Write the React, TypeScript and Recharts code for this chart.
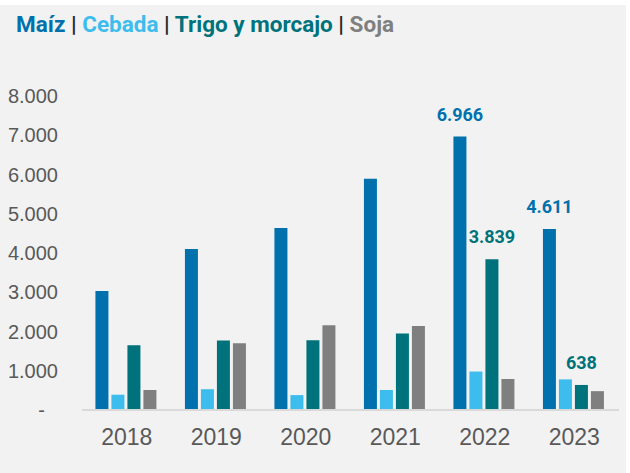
import React from 'react';
import { BarChart, Bar, XAxis, YAxis, LabelList } from 'recharts';

const years = ['2018', '2019', '2020', '2021', '2022', '2023'];
const maiz = [3030, 4100, 4640, 5890, 6966, 4611];
const cebada = [390, 530, 380, 510, 980, 780];
const trigo = [1650, 1770, 1780, 1950, 3839, 638];
const soja = [510, 1700, 2160, 2140, 790, 480];
// only these values carry a label in the original
const maizLabels = [null, null, null, null, 6966, 4611];
const trigoLabels = [null, null, null, null, 3839, 638];
const yTicks = [0, 1000, 2000, 3000, 4000, 5000, 6000, 7000, 8000];

const data = years.map((year, i) => ({
 year,
 maiz: maiz[i],
 cebada: cebada[i],
 trigo: trigo[i],
 soja: soja[i],
 maizLabel: maizLabels[i],
 trigoLabel: trigoLabels[i],
}));

const fmt = (v: number) => v.toString().replace(/\B(?=(\d{3})+(?!\d))/g, '.');

const YTick = (props: any) => {
 const { x, y, payload } = props;
 const v = payload.value as number;
 return (
  <text x={v === 0 ? x - 13 : x} y={y} dy="0.35em" textAnchor="end" fill="#595959"
   style={{ fontFamily: '"Liberation Sans", Arial, sans-serif', fontSize: 20 }}>
   {v === 0 ? '-' : fmt(v)}
  </text>
 );
};

const topLabel = (color: string) => (props: any) => {
 const { x, y, width, value } = props;
 if (value == null) return null;
 return (
  <text x={x + width / 2} y={y - 16} textAnchor="middle" fill={color}
   style={{ fontFamily: 'Roboto, sans-serif', fontWeight: 700, fontSize: 18 }}>
   {fmt(value)}
  </text>
 );
};

const sep = <span style={{ color: '#262626' }}> | </span>;

const App = () => {
 return (
  <div style={{ position: 'absolute', left: 0, top: 0, width: 630, height: 473, background: '#ffffff' }}>
   <div style={{ position: 'absolute', left: 0, top: 5, width: 626, height: 468, background: '#f2f2f2' }} />
   <div style={{ position: 'absolute', left: 16, top: 10, fontFamily: 'Roboto, sans-serif', fontWeight: 700, fontSize: 22.5, lineHeight: '28px', whiteSpace: 'nowrap' }}>
    <span style={{ color: '#0071ac' }}>Maíz</span>
    {sep}
    <span style={{ color: '#3dbdee' }}>Cebada</span>
    {sep}
    <span style={{ color: '#00727b' }}>Trigo y morcajo</span>
    {sep}
    <span style={{ color: '#7f7f7f' }}>Soja</span>
   </div>
   <div style={{ position: 'absolute', left: 0, top: 0 }}>
    <BarChart width={630} height={473} data={data} margin={{ top: 96, right: 11, bottom: 20, left: 0 }}
     barCategoryGap="15%" barGap={3}>
     <XAxis dataKey="year" axisLine={{ stroke: '#d9d9d9', strokeWidth: 2 }} tickLine={false} tickSize={0} tickMargin={19}
      height={43} tick={{ fill: '#595959', fontSize: 23, fontFamily: '"Liberation Sans", Arial, sans-serif' }} />
     <YAxis domain={[0, 8000]} ticks={yTicks} axisLine={false} tickLine={false} tickSize={0} tickMargin={24}
      width={82} tick={<YTick />} interval={0} />
     <Bar dataKey="maiz" fill="#0071ac" isAnimationActive={false}>
      <LabelList dataKey="maizLabel" content={topLabel('#0071ac')} />
     </Bar>
     <Bar dataKey="cebada" fill="#3dbdee" isAnimationActive={false} />
     <Bar dataKey="trigo" fill="#00727b" isAnimationActive={false}>
      <LabelList dataKey="trigoLabel" content={topLabel('#00727b')} />
     </Bar>
     <Bar dataKey="soja" fill="#7f7f7f" isAnimationActive={false} />
    </BarChart>
   </div>
  </div>
 );
};

export default App;
